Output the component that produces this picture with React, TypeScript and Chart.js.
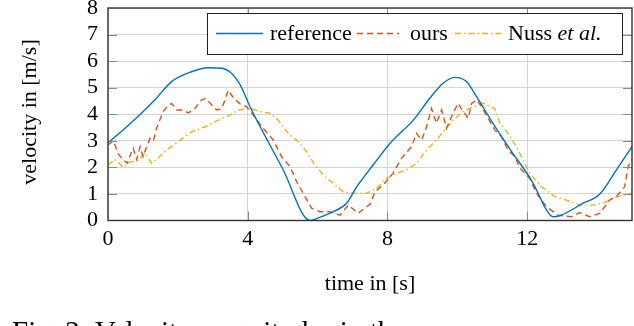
import React, { useEffect, useRef } from "react";
import { Chart, registerables } from "chart.js";

Chart.register(...registerables);

// ---- data ----
const refT = [0, 0.49, 1.34, 1.82, 2.39, 2.87, 3.27, 3.73, 4.11, 5.0, 5.78, 6.02, 6.45, 6.83, 7.12, 7.59, 8.07, 8.74, 9.21, 9.59, 9.93, 10.26, 10.55, 11.02, 11.5, 12.17, 12.55, 12.74, 12.93, 13.6, 14.08, 14.55, 15.0];
const refV = [2.93, 3.47, 4.54, 5.23, 5.6, 5.75, 5.73, 5.23, 4.16, 1.95, 0.0, 0.1, 0.33, 0.65, 1.27, 2.09, 2.9, 3.78, 4.6, 5.17, 5.39, 5.23, 4.66, 3.66, 2.7, 1.4, 0.4, 0.14, 0.18, 0.65, 1.0, 1.9, 2.78];

const oursT = [0, 0.15, 0.3, 0.44, 0.55, 0.65, 0.72, 0.82, 0.92, 1.0, 1.1, 1.2, 1.3, 1.39, 1.58, 1.7, 1.82, 1.97, 2.15, 2.3, 2.49, 2.68, 2.8, 2.97, 3.11, 3.25, 3.35, 3.44, 3.6, 3.77, 3.97, 4.16, 4.44, 4.73, 4.97, 5.21, 5.4, 5.64, 5.83, 6.07, 6.35, 6.64, 6.88, 7.16, 7.4, 7.5, 7.64, 7.88, 8.16, 8.4, 8.69, 8.83, 8.98, 9.12, 9.26, 9.4, 9.55, 9.69, 9.83, 10.02, 10.17, 10.31, 10.41, 10.55, 10.69, 10.83, 11.07, 11.26, 11.45, 11.65, 11.79, 12.07, 12.27, 12.55, 12.88, 13.27, 13.5, 13.79, 14.08, 14.36, 14.55, 14.79, 14.89, 15.0];
const oursV = [2.84, 3.0, 2.5, 2.28, 2.15, 2.5, 2.72, 2.3, 2.78, 2.4, 2.75, 3.09, 3.0, 3.47, 4.1, 4.3, 4.41, 4.16, 4.16, 4.05, 4.22, 4.54, 4.6, 4.35, 4.16, 4.2, 4.54, 4.91, 4.6, 4.4, 4.28, 3.97, 3.47, 3.03, 2.4, 2.03, 1.46, 0.9, 0.46, 0.33, 0.33, 0.2, 0.58, 0.27, 0.52, 0.6, 1.08, 1.34, 1.78, 2.34, 2.78, 3.28, 3.03, 3.53, 4.22, 3.66, 4.16, 3.47, 3.9, 4.41, 4.1, 3.85, 4.41, 4.54, 4.3, 3.97, 3.41, 3.16, 2.65, 2.4, 1.97, 1.59, 1.02, 0.52, 0.2, 0.14, 0.3, 0.14, 0.27, 0.77, 0.9, 1.27, 2.03, 2.3];

const nussT = [0, 0.2, 0.44, 0.63, 0.85, 1.06, 1.25, 1.44, 1.68, 2.01, 2.39, 2.78, 3.16, 3.49, 3.73, 4.07, 4.35, 4.64, 4.87, 5.16, 5.45, 5.69, 5.92, 6.21, 6.5, 6.73, 7.07, 7.4, 7.69, 7.97, 8.26, 8.55, 8.83, 9.12, 9.4, 9.64, 9.88, 10.17, 10.45, 10.74, 11.07, 11.22, 11.45, 11.69, 12.07, 12.41, 12.79, 13.12, 13.5, 13.89, 14.17, 14.46, 14.74, 15.0];
const nussV = [2.09, 2.3, 2.0, 2.2, 2.25, 2.53, 2.15, 2.36, 2.65, 2.97, 3.34, 3.53, 3.78, 3.97, 4.16, 4.22, 4.1, 4.04, 3.78, 3.28, 2.97, 2.59, 2.09, 1.65, 1.34, 1.08, 1.02, 1.02, 1.21, 1.59, 1.78, 1.9, 2.15, 2.65, 3.03, 3.41, 3.78, 4.1, 4.28, 4.41, 4.22, 3.66, 3.28, 2.78, 1.78, 1.27, 0.9, 0.77, 0.58, 0.58, 0.65, 0.84, 0.96, 1.02];

const seriesNames = ["reference", "ours", "Nuss"];
const xTickValues = [0, 4, 8, 12];
const xTitle = "time in [s]";
const yTitle = "velocity in [m/s]";
const caption = "Fig. 2: Velocity magnitudes in the";

const FONT = '"Liberation Serif", "Times New Roman", serif';
const BLUE = "#0072BD";
const ORANGE = "#D95319";
const YELLOW = "#EDB120";
const DASH_OURS = [6, 4];
const DASH_NUSS = [6, 3, 1.5, 3];

const toPts = (t: number[], v: number[]) => t.map((x, i) => ({ x, y: v[i] }));

const decorPlugin = {
  id: "decor",
  afterDatasetsDraw(chart: any) {
    const { ctx, chartArea: a, scales } = chart;
    const xs = scales.x, ys = scales.y;
    ctx.save();
    // inner tick marks
    ctx.strokeStyle = "#8a8a8a";
    ctx.lineWidth = 1;
    ctx.beginPath();
    for (let v = 1; v < 8; v++) {
      const y = Math.round(ys.getPixelForValue(v)) + 0.5;
      ctx.moveTo(a.left, y); ctx.lineTo(a.left + 9, y);
      ctx.moveTo(a.right, y); ctx.lineTo(a.right - 9, y);
    }
    for (const v of xTickValues.slice(1)) {
      const x = Math.round(xs.getPixelForValue(v)) + 0.5;
      ctx.moveTo(x, a.bottom); ctx.lineTo(x, a.bottom - 9);
      ctx.moveTo(x, a.top); ctx.lineTo(x, a.top + 9);
    }
    ctx.stroke();
    // frame
    ctx.strokeStyle = "#333";
    ctx.lineWidth = 1.4;
    ctx.strokeRect(a.left, a.top, a.right - a.left, a.bottom - a.top);

    // legend
    const lx = 207, ly = 13, lw = 415, lh = 41;
    ctx.fillStyle = "#fff";
    ctx.fillRect(lx, ly, lw, lh);
    ctx.strokeStyle = "#222";
    ctx.lineWidth = 1;
    ctx.strokeRect(lx + 0.5, ly + 0.5, lw, lh);
    const my = 33.5;
    ctx.lineWidth = 1.4;
    const sample = (x1: number, x2: number, color: string, dash: number[]) => {
      ctx.strokeStyle = color;
      ctx.setLineDash(dash);
      ctx.beginPath(); ctx.moveTo(x1, my); ctx.lineTo(x2, my); ctx.stroke();
      ctx.setLineDash([]);
    };
    sample(216, 263, BLUE, []);
    sample(357, 399, ORANGE, DASH_OURS);
    sample(455, 502, YELLOW, DASH_NUSS);
    ctx.fillStyle = "#000";
    ctx.textBaseline = "alphabetic";
    ctx.textAlign = "left";
    ctx.font = `22px ${FONT}`;
    ctx.fillText(seriesNames[0], 270, 40);
    ctx.fillText(seriesNames[1], 410, 40);
    ctx.fillText(seriesNames[2], 508, 40);
    const w = ctx.measureText(seriesNames[2] + " ").width;
    ctx.font = `italic 22px ${FONT}`;
    ctx.fillText("et al.", 508 + w, 40);

    // axis titles
    ctx.font = `22px ${FONT}`;
    ctx.textAlign = "center";
    ctx.textBaseline = "middle";
    ctx.fillText(xTitle, (a.left + a.right) / 2, 284);
    ctx.save();
    ctx.translate(30, 112);
    ctx.rotate(-Math.PI / 2);
    ctx.fillText(yTitle, 0, 0);
    ctx.restore();

    // caption (cut by the picture's bottom edge)
    ctx.font = `29px ${FONT}`;
    ctx.textAlign = "left";
    ctx.textBaseline = "alphabetic";
    ctx.fillText(caption, 12, 341);
    ctx.restore();
  },
};

export default function App() {
  const ref = useRef<HTMLCanvasElement | null>(null);
  useEffect(() => {
    if (!ref.current) return;
    const chart = new Chart(ref.current, {
      type: "line",
      data: {
        datasets: [
          { label: seriesNames[0], data: toPts(refT, refV), borderColor: BLUE, borderWidth: 1.4, pointRadius: 0, cubicInterpolationMode: "monotone", tension: 0.4 },
          { label: seriesNames[1], data: toPts(oursT, oursV), borderColor: ORANGE, borderWidth: 1.4, pointRadius: 0, borderDash: DASH_OURS, tension: 0 },
          { label: seriesNames[2], data: toPts(nussT, nussV), borderColor: YELLOW, borderWidth: 1.4, pointRadius: 0, borderDash: DASH_NUSS, tension: 0 },
        ],
      },
      options: {
        animation: false,
        responsive: false,
        events: [],
        layout: { padding: { left: 0, right: 2, top: 8, bottom: 0 } },
        plugins: { legend: { display: false }, tooltip: { enabled: false } },
        scales: {
          x: {
            type: "linear",
            min: 0,
            max: 15,
            grid: { color: "#d4d4d4", lineWidth: 1, drawTicks: false },
            border: { display: false },
            ticks: { stepSize: 4, includeBounds: false, autoSkip: false, padding: 6, color: "#000", font: { family: FONT, size: 22 }, maxRotation: 0 },
            afterFit: (s: any) => { s.height = 105.5; s.paddingLeft = 0; s.paddingRight = 0; },
          },
          y: {
            type: "linear",
            min: 0,
            max: 8,
            grid: { color: "#d4d4d4", lineWidth: 1, drawTicks: false },
            border: { display: false },
            ticks: { stepSize: 1, autoSkip: false, padding: 10, color: "#000", font: { family: FONT, size: 22 } },
            afterFit: (s: any) => { s.width = 108; s.paddingTop = 0; s.paddingBottom = 0; },
          },
        },
      },
      plugins: [decorPlugin],
    } as any);
    return () => chart.destroy();
  }, []);
  return (
    <div style={{ position: "absolute", left: 0, top: 0, width: 634, height: 326, background: "#fff" }}>
      <canvas ref={ref} width={634} height={326} />
    </div>
  );
}
